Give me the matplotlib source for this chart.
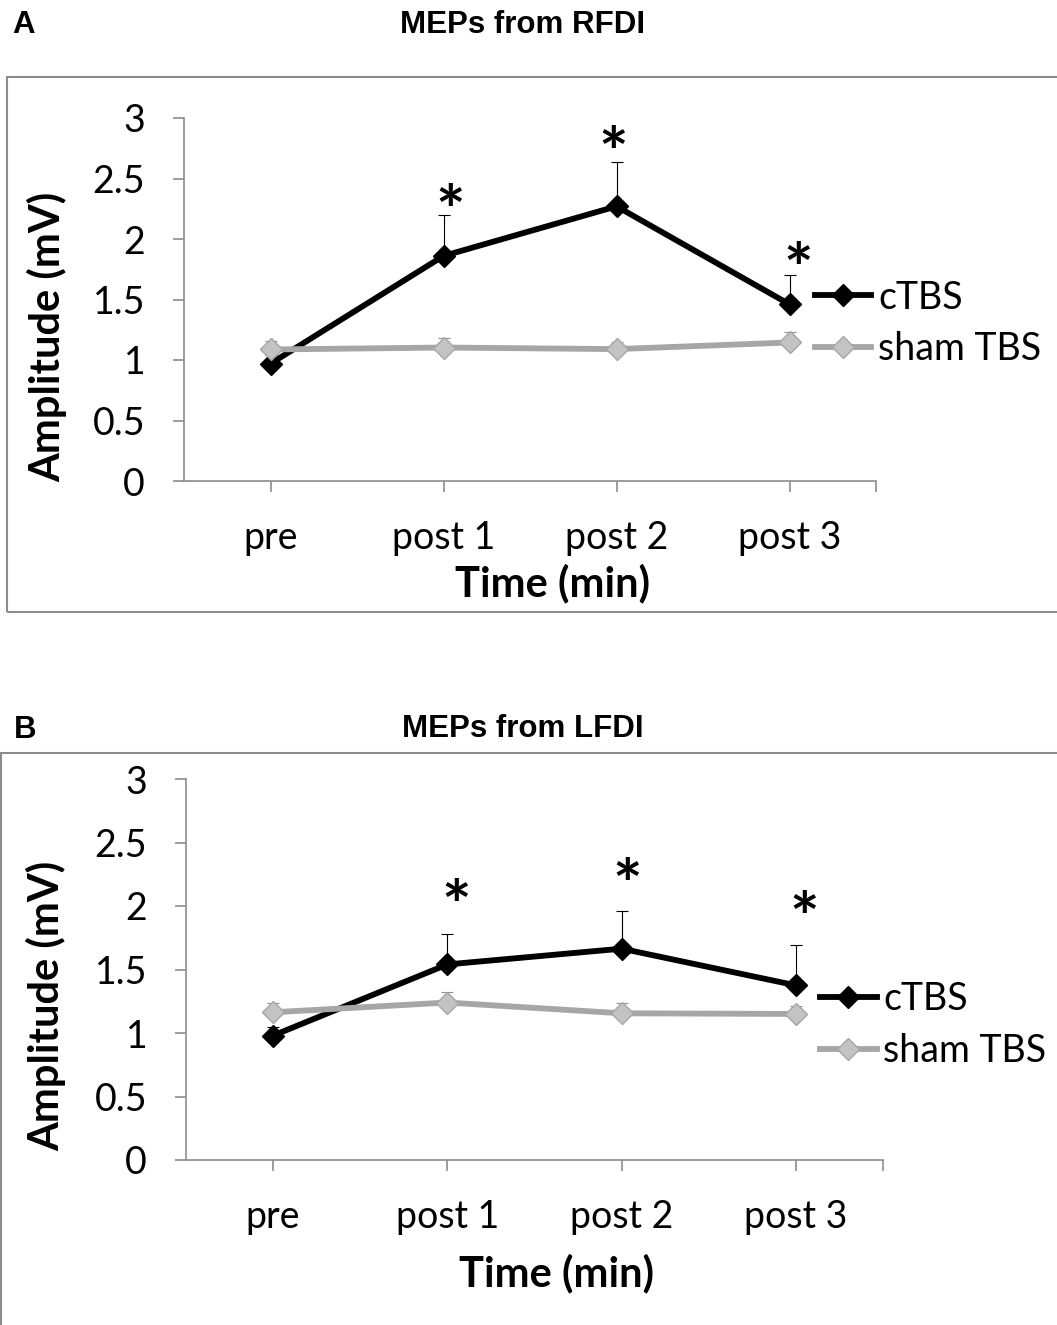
"""
MEP amplitudes from RFDI (A) and LFDI (B) after cTBS vs sham TBS.
Two stacked Excel-style line charts with upper-only SEM bars.
"""
import numpy as np
import matplotlib
matplotlib.use("Agg")
import matplotlib.pyplot as plt
from matplotlib.patches import Rectangle
from matplotlib.transforms import offset_copy

TIMES = ["pre", "post 1", "post 2", "post 3"]
SERIES = ["cTBS", "sham TBS"]

# Panel A - MEPs from RFDI
A_CTBS = [0.97, 1.86, 2.27, 1.46]
A_CTBS_ERR = [0.07, 0.335, 0.37, 0.24]
A_SHAM = [1.087, 1.103, 1.09, 1.145]
A_SHAM_ERR = [0.07, 0.075, 0.055, 0.09]
A_STARS = [2.35, 2.83, 1.87]          # asterisk levels at post 1..3

# Panel B - MEPs from LFDI
B_CTBS = [0.98, 1.54, 1.664, 1.375]
B_CTBS_ERR = [0.07, 0.237, 0.296, 0.315]
B_SHAM = [1.163, 1.24, 1.155, 1.15]
B_SHAM_ERR = [0.071, 0.08, 0.079, 0.063]
B_STARS = [2.11, 2.28, 2.02]

W, H = 1057, 1325
C_CTBS = "black"
C_SHAM = "#a6a6a6"
C_SHAM_FACE = "#c3c3c3"
C_AXIS = "#8c8c8c"
TICK_FONT = "Lato"
TITLE_FONT = "Liberation Sans"
FS = 27         # tick labels / legend
FS_LAB = 30     # axis labels
FS_STAR = 50


def px_box(left, top, right, bottom):
    """pixel box (from top-left) -> figure fraction [l, b, w, h]"""
    return [left / W, 1 - bottom / H, (right - left) / W, (bottom - top) / H]


def draw_panel(fig, box, ctbs, ctbs_err, sham, sham_err, stars, star_dx,
               xlab_pos, ylab_pos, leg_pos):
    ax = fig.add_axes(px_box(*box))
    x = np.arange(len(TIMES)) + 0.5

    ax.errorbar(x, ctbs, yerr=[np.zeros(len(x)), ctbs_err], fmt="none",
                ecolor=C_CTBS, elinewidth=0.8, capsize=4.3, capthick=0.8)
    l1, = ax.plot(x, ctbs, color=C_CTBS, lw=4.2, marker="D", ms=11.5,
                  mfc=C_CTBS, mec=C_CTBS, label=SERIES[0])
    ax.errorbar(x, sham, yerr=[np.zeros(len(x)), sham_err], fmt="none",
                ecolor="#8f8f8f", elinewidth=0.8, capsize=4.3, capthick=0.8)
    l2, = ax.plot(x, sham, color=C_SHAM, lw=4.2, marker="D", ms=11.5,
                  mfc=C_SHAM_FACE, mec=C_SHAM, label=SERIES[1])

    # asterisk glyph sits high in its text box; shift so the glyph is centred on the level
    star_tr = offset_copy(ax.transData, fig=fig, y=-0.27 * FS_STAR, units="points")
    for xi, dx, yi in zip(x[1:], star_dx, stars):
        ax.text(xi + dx, yi, "*", ha="center", va="center", fontsize=FS_STAR,
                fontweight="bold", family=TICK_FONT, transform=star_tr)

    ax.set_xlim(0, len(TIMES))
    ax.set_ylim(0, 3)
    ax.set_yticks(np.arange(0, 3.01, 0.5))
    ax.set_yticklabels(["0", "0.5", "1", "1.5", "2", "2.5", "3"])
    ax.set_xticks(x)
    ax.set_xticklabels(TIMES)
    ax.set_xticks([len(TIMES)], minor=True)
    ax.tick_params(which="both", length=8, width=1.2, color=C_AXIS,
                   labelsize=FS, pad=20)
    for lab in ax.get_xticklabels() + ax.get_yticklabels():
        lab.set_family(TICK_FONT)
    for s in ("top", "right"):
        ax.spines[s].set_visible(False)
    for s in ("left", "bottom"):
        ax.spines[s].set_color(C_AXIS)
        ax.spines[s].set_linewidth(1.2)

    ax.set_xlabel("Time (min)", fontsize=FS_LAB, fontweight="bold", family=TICK_FONT)
    ax.xaxis.set_label_coords(*xlab_pos)
    ax.xaxis.label.set_va("center")
    ax.set_ylabel("Amplitude (mV)", fontsize=FS_LAB, fontweight="bold", family=TICK_FONT)
    ax.yaxis.set_label_coords(*ylab_pos)
    ax.yaxis.label.set_va("center")

    ax.legend(handles=[l1, l2], loc="center left", bbox_to_anchor=leg_pos,
              frameon=False, borderpad=0, borderaxespad=0, handlelength=1.5,
              handletextpad=0.18, labelspacing=0.42,
              prop={"family": TICK_FONT, "size": FS})
    return ax


fig = plt.figure(figsize=(W / 100, H / 100), dpi=100)

# panel frames
fig.add_artist(Rectangle((7 / W, 1 - 612 / H), 1.1, (612 - 77) / H,
                         transform=fig.transFigure, fill=False,
                         edgecolor=C_AXIS, lw=1.5))
fig.add_artist(Rectangle((1 / W, -0.05), 1.1, 1 - 753 / H + 0.05,
                         transform=fig.transFigure, fill=False,
                         edgecolor=C_AXIS, lw=1.5))

draw_panel(fig, (184, 118, 876, 481), A_CTBS, A_CTBS_ERR, A_SHAM, A_SHAM_ERR,
           A_STARS, [0.04, -0.02, 0.05],
           xlab_pos=(0.533, -0.281), ylab_pos=(-0.198, 0.397),
           leg_pos=(0.912, 0.434))
draw_panel(fig, (186, 779, 883, 1160), B_CTBS, B_CTBS_ERR, B_SHAM, B_SHAM_ERR,
           B_STARS, [0.05, 0.03, 0.05],
           xlab_pos=(0.532, -0.298), ylab_pos=(-0.2, 0.404),
           leg_pos=(0.910, 0.354))

# panel letters and titles
fig.text(12 / W, 1 - 25 / H, "A", fontsize=22.5, fontweight="bold",
         family=TITLE_FONT, ha="left", va="center")
fig.text(523 / W, 1 - 25 / H, "MEPs from RFDI", fontsize=22.5, fontweight="bold",
         family=TITLE_FONT, ha="center", va="center")
fig.text(14 / W, 1 - 730 / H, "B", fontsize=22.5, fontweight="bold",
         family=TITLE_FONT, ha="left", va="center")
fig.text(523 / W, 1 - 729 / H, "MEPs from LFDI", fontsize=22.5, fontweight="bold",
         family=TITLE_FONT, ha="center", va="center")

fig.savefig("out.png", dpi=100)
